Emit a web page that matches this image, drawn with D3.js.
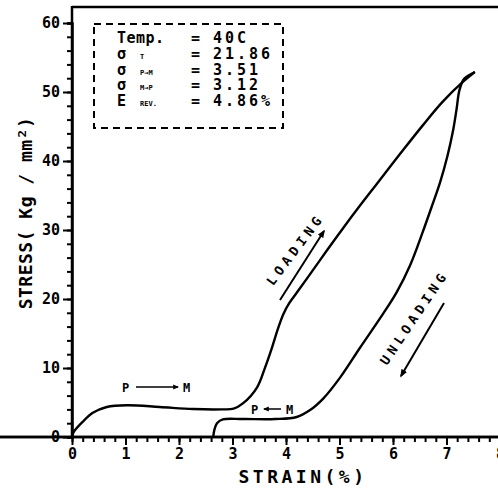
<!DOCTYPE html>
<html>
<head>
<meta charset="utf-8">
<script src="https://cdn.jsdelivr.net/npm/d3@7"></script>
<style>
  body { margin: 0; background: #fff; }
  svg text { font-family: "DejaVu Sans Mono", "Liberation Mono", monospace; font-weight: bold; fill: #000; }
</style>
</head>
<body>
<svg width="498" height="488"></svg>
<script>
// values
const loadingStrain = [0, 0.03, 0.2, 0.39, 0.65, 1.03, 1.64, 2.26, 2.8, 3.02, 3.2, 3.46, 3.61, 3.74, 3.85, 3.95, 4.06, 4.2, 4.45, 4.77, 5.07, 5.38, 5.70, 6.13, 6.56, 6.93, 7.31, 7.53];
const loadingStress = [0, 0.7, 2.2, 3.5, 4.35, 4.6, 4.35, 4.05, 4.0, 4.1, 4.9, 7.2, 10.1, 13.0, 15.7, 17.8, 19.4, 20.9, 23.6, 27.1, 30.3, 33.5, 36.7, 41.0, 45.2, 48.6, 51.5, 52.9];

const unloadingStrain = [2.64, 2.66, 2.71, 2.82, 3.2, 3.8, 4.2, 4.45, 4.7, 5.01, 5.38, 5.81, 6.07, 6.32, 6.56, 6.72, 6.88, 7.02, 7.12, 7.19, 7.24, 7.33, 7.53];
const unloadingStress = [0, 1.0, 2.0, 2.55, 2.6, 2.6, 2.9, 3.9, 5.6, 8.6, 12.9, 17.8, 21.0, 24.9, 29.8, 33.3, 36.9, 40.8, 44.3, 47.6, 50.2, 51.9, 52.9];

const xTickLabels = [0, 1, 2, 3, 4, 5, 6, 7, 8];
const yTickLabels = [0, 10, 20, 30, 40, 50, 60];

const legendNames = ["Temp.", "σ", "σ", "σ", "E"];
const legendSubs = ["", "T", "P\u2192M", "M\u2192P", "REV."];
const legendValues = ["40C", "21.86", "3.51", "3.12", "4.86%"];

const svg = d3.select("svg");

const x = d3.scaleLinear().domain([0, 8]).range([72, 500]);
const y = d3.scaleLinear().domain([0, 60]).range([437, 23]);

// top frame line
svg.append("line")
    .attr("x1", x(0)).attr("x2", 498)
    .attr("y1", 7).attr("y2", 7)
    .attr("stroke", "#000").attr("stroke-width", 2.5);

// x axis: minor then major
const xMinor = svg.append("g")
    .attr("transform", `translate(0,${y(0)})`)
    .call(d3.axisBottom(x).tickValues(d3.range(0, 8.01, 0.2)).tickSize(5).tickFormat(""));
const xMajor = svg.append("g")
    .attr("transform", `translate(0,${y(0)})`)
    .call(d3.axisBottom(x).tickValues(xTickLabels).tickSize(8).tickPadding(3).tickFormat(d3.format("d")));

// y axis
const yMinor = svg.append("g")
    .attr("transform", `translate(${x(0)},0)`)
    .call(d3.axisLeft(y).tickValues(d3.range(0, 61, 2)).tickSize(5).tickFormat(""));
const yMajor = svg.append("g")
    .attr("transform", `translate(${x(0)},0)`)
    .call(d3.axisLeft(y).tickValues(yTickLabels).tickSize(9).tickPadding(3).tickFormat(d3.format("d")));

[xMinor, xMajor, yMinor, yMajor].forEach(g => {
    g.select(".domain").attr("stroke", "#000").attr("stroke-width", 2.5);
    g.selectAll(".tick line").attr("stroke", "#000").attr("stroke-width", 2);
    g.selectAll(".tick text").attr("font-size", 15).attr("font-family", null);
});
yMajor.select(".domain").attr("d", `M0,${y(0) + 2}V6`);
xMajor.select(".domain").attr("d", "M0,0H498");
xMinor.select(".domain").attr("d", "M0,0H498");

// curves
const line = d3.line()
    .x(d => x(d[0]))
    .y(d => y(d[1]))
    .curve(d3.curveCatmullRom.alpha(0.5));

svg.append("path")
    .datum(loadingStrain.map((s, i) => [s, loadingStress[i]]))
    .attr("d", line)
    .attr("fill", "none").attr("stroke", "#000").attr("stroke-width", 2.4);

svg.append("path")
    .datum(unloadingStrain.map((s, i) => [s, unloadingStress[i]]))
    .attr("d", line)
    .attr("fill", "none").attr("stroke", "#000").attr("stroke-width", 2.4);

// axis titles
svg.append("text")
    .attr("x", 303).attr("y", 483)
    .attr("text-anchor", "middle")
    .attr("font-size", 18)
    .attr("letter-spacing", 3.5)
    .text("STRAIN(%)");

svg.append("text")
    .attr("transform", "translate(32,213) rotate(-90)")
    .attr("text-anchor", "middle")
    .attr("font-size", 18)
    .attr("letter-spacing", 0.5)
    .text("STRESS( Kg / mm²)");

// legend box
svg.append("rect")
    .attr("x", 94).attr("y", 24).attr("width", 189).attr("height", 104)
    .attr("fill", "none").attr("stroke", "#000").attr("stroke-width", 2)
    .attr("stroke-dasharray", "7,5");

legendNames.forEach((name, i) => {
    const yy = 43 + i * 15.8;
    svg.append("text").attr("x", 117).attr("y", yy)
        .attr("font-size", 15)
        .attr("letter-spacing", i === 0 ? 0.5 : 0)
        .text(name);
    if (legendSubs[i]) {
        svg.append("text").attr("x", 140).attr("y", yy)
            .attr("font-size", 7).text(legendSubs[i]);
    }
    svg.append("text").attr("x", 191).attr("y", yy)
        .attr("font-size", 15).text("=");
    svg.append("text").attr("x", 213).attr("y", yy)
        .attr("font-size", 15).attr("letter-spacing", 3).text(legendValues[i]);
});

// annotations
svg.append("text")
    .attr("transform", "translate(299,252) rotate(-53)")
    .attr("text-anchor", "middle").attr("font-size", 13)
    .attr("letter-spacing", 4.5)
    .text("LOADING");

svg.append("text")
    .attr("transform", "translate(418,320) rotate(-56)")
    .attr("text-anchor", "middle").attr("font-size", 13)
    .attr("letter-spacing", 4.5)
    .text("UNLOADING");

svg.append("defs").append("marker")
    .attr("id", "ah").attr("viewBox", "0 0 10 10")
    .attr("refX", 8).attr("refY", 5)
    .attr("markerWidth", 4).attr("markerHeight", 4)
    .attr("orient", "auto")
    .append("path").attr("d", "M0,1L10,5L0,9Z").attr("fill", "#000");

svg.append("line")
    .attr("x1", 280).attr("y1", 300).attr("x2", 324).attr("y2", 231)
    .attr("stroke", "#000").attr("stroke-width", 2).attr("marker-end", "url(#ah)");
svg.append("line")
    .attr("x1", 444).attr("y1", 303).attr("x2", 401).attr("y2", 376)
    .attr("stroke", "#000").attr("stroke-width", 2).attr("marker-end", "url(#ah)");

svg.append("text").attr("x", 122).attr("y", 392).attr("font-size", 12).text("P");
svg.append("line")
    .attr("x1", 136).attr("y1", 387).attr("x2", 178).attr("y2", 387)
    .attr("stroke", "#000").attr("stroke-width", 1.5).attr("marker-end", "url(#ah)");
svg.append("text").attr("x", 183).attr("y", 392).attr("font-size", 12).text("M");

svg.append("text").attr("x", 251).attr("y", 414).attr("font-size", 12).text("P");
svg.append("line")
    .attr("x1", 281).attr("y1", 409).attr("x2", 264).attr("y2", 409)
    .attr("stroke", "#000").attr("stroke-width", 1.5).attr("marker-end", "url(#ah)");
svg.append("text").attr("x", 286).attr("y", 414).attr("font-size", 12).text("M");
</script>
</body>
</html>
